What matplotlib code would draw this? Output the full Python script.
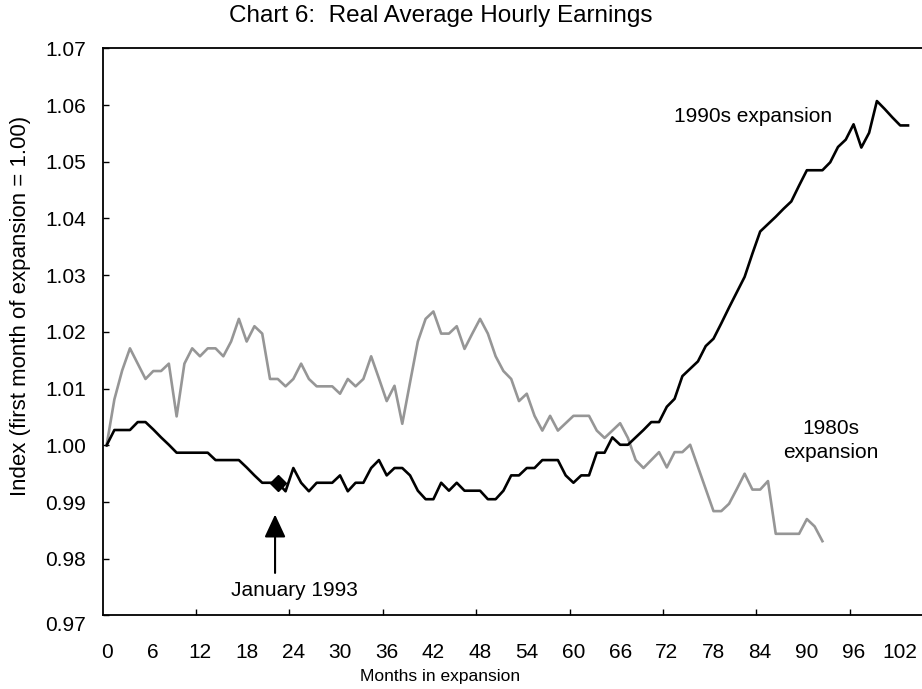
# real average hourly earnings, two expansions indexed to first month
import numpy as np
import matplotlib.pyplot as plt

plt.rcParams['font.family'] = ['Liberation Sans', 'DejaVu Sans']

# 1990s expansion (black), months 0..103
earn_1990s = [1.0000, 1.0027, 1.0027, 1.0027, 1.0041, 1.0041, 1.0028, 1.0014, 1.0001, 0.9987,
              0.9987, 0.9987, 0.9987, 0.9987, 0.9974, 0.9974, 0.9974, 0.9974, 0.9961, 0.9947,
              0.9934, 0.9934, 0.9934, 0.9919, 0.9960, 0.9934, 0.9919, 0.9934, 0.9934, 0.9934,
              0.9947, 0.9919, 0.9934, 0.9934, 0.9960, 0.9974, 0.9947, 0.9960, 0.9960, 0.9947,
              0.9920, 0.9905, 0.9905, 0.9934, 0.9920, 0.9934, 0.9920, 0.9920, 0.9920, 0.9905,
              0.9905, 0.9920, 0.9947, 0.9947, 0.9960, 0.9960, 0.9974, 0.9974, 0.9974, 0.9947,
              0.9934, 0.9947, 0.9947, 0.9987, 0.9987, 1.0014, 1.0001, 1.0001, 1.0014, 1.0027,
              1.0041, 1.0041, 1.0068, 1.0082, 1.0122, 1.0135, 1.0148, 1.0175, 1.0188, 1.0215,
              1.0243, 1.0270, 1.0297, 1.0338, 1.0377, 1.0390, 1.0403, 1.0417, 1.0430, 1.0458,
              1.0485, 1.0485, 1.0485, 1.0499, 1.0526, 1.0539, 1.0566, 1.0525, 1.0551, 1.0607,
              1.0593, 1.0578, 1.0564, 1.0564]

# 1980s expansion (gray), months 0..92
earn_1980s = [1.0000, 1.0081, 1.0132, 1.0171, 1.0144, 1.0117, 1.0131, 1.0131, 1.0144, 1.0051,
              1.0144, 1.0171, 1.0157, 1.0171, 1.0171, 1.0157, 1.0183, 1.0223, 1.0183, 1.0210,
              1.0197, 1.0117, 1.0117, 1.0104, 1.0117, 1.0144, 1.0117, 1.0104, 1.0104, 1.0104,
              1.0091, 1.0117, 1.0104, 1.0117, 1.0157, 1.0118, 1.0078, 1.0105, 1.0038, 1.0111,
              1.0183, 1.0223, 1.0236, 1.0197, 1.0197, 1.0210, 1.0170, 1.0197, 1.0223, 1.0197,
              1.0157, 1.0131, 1.0117, 1.0078, 1.0091, 1.0052, 1.0026, 1.0052, 1.0026, 1.0039,
              1.0052, 1.0052, 1.0052, 1.0026, 1.0013, 1.0026, 1.0039, 1.0013, 0.9974, 0.9960,
              0.9974, 0.9988, 0.9961, 0.9988, 0.9988, 1.0001, 0.9962, 0.9923, 0.9884, 0.9884,
              0.9897, 0.9923, 0.9950, 0.9922, 0.9922, 0.9937, 0.9844, 0.9844, 0.9844, 0.9844,
              0.9870, 0.9857, 0.9831]

jan_1993_month = 22
x_labels = list(range(0, 103, 6))
y_ticks = [0.97, 0.98, 0.99, 1.00, 1.01, 1.02, 1.03, 1.04, 1.05, 1.06, 1.07]

fig = plt.figure(figsize=(9.22, 6.89), dpi=100)
ax = fig.add_axes([0.1114, 0.1067, 0.892, 0.8232])

m80 = np.arange(len(earn_1980s))
m90 = np.arange(len(earn_1990s))
ax.plot(m80, earn_1980s, color='#969696', lw=1.9)
ax.plot(m90, earn_1990s, color='black', lw=1.9)
ax.plot(jan_1993_month, earn_1990s[jan_1993_month], marker='D', color='black', markersize=8)

ax.set_xlim(-0.5, 105.2)
ax.set_ylim(0.97, 1.07)

# category axis: labels every 6 months, tick marks every 12 (between categories)
ax.set_xticks(x_labels)
ax.set_xticklabels([str(v) for v in x_labels], fontsize=15)
ax.tick_params(axis='x', which='major', length=0, pad=20)
ax.set_xticks(np.arange(11.5, 100, 12), minor=True)
ax.tick_params(axis='x', which='minor', direction='in', length=4, width=1)

ax.set_yticks(y_ticks)
ax.set_yticklabels([''] + ['%.2f' % v for v in y_ticks[1:]], fontsize=15)
ax.tick_params(axis='y', direction='in', length=4, width=1, pad=12)
# bottom label sits a bit lower in the original
ax.annotate('0.97', xy=(0, 0.97), xycoords=('axes fraction', 'data'), xytext=(-12, -7),
            textcoords='offset points', ha='right', va='center', fontsize=15)

for s in ['left', 'bottom', 'top']:
    ax.spines[s].set_linewidth(1.3)
ax.spines['right'].set_visible(False)

ax.set_xlabel('Months in expansion', fontsize=12.5)
ax.xaxis.set_label_coords(0.41, -0.095)
ax.set_ylabel('Index (first month of expansion = 1.00)', fontsize=16)
ax.yaxis.set_label_coords(-0.087, 0.545)

fig.text(0.478, 0.977, 'Chart 6:  Real Average Hourly Earnings', ha='center', va='center', fontsize=17.5)

# annotations
ax.text(83.1, 1.0580, '1990s expansion', ha='center', va='center', fontsize=15)
ax.text(93.1, 1.0008, '1980s\nexpansion', ha='center', va='center', fontsize=15, linespacing=1.35)
ax.annotate('', xy=(21.65, 0.9878), xytext=(21.65, 0.9775),
            arrowprops=dict(arrowstyle='-|>,head_length=1.4,head_width=0.65', color='black',
                            lw=1.5, mutation_scale=10, shrinkA=0, shrinkB=0))
ax.text(24.2, 0.9744, 'January 1993', ha='center', va='center', fontsize=15)

plt.savefig('out.png', dpi=100)
